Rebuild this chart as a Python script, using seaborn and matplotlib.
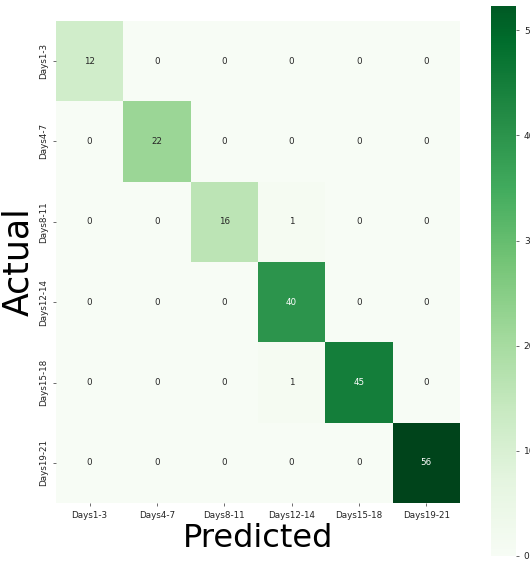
import numpy as np
import pandas as pd
import matplotlib
matplotlib.use("Agg")
import matplotlib.pyplot as plt
import seaborn as sns

labels = ["Days1-3", "Days4-7", "Days8-11", "Days12-14", "Days15-18", "Days19-21"]
row_1 = [12, 0, 0, 0, 0, 0]
row_2 = [0, 22, 0, 0, 0, 0]
row_3 = [0, 0, 16, 1, 0, 0]
row_4 = [0, 0, 0, 40, 0, 0]
row_5 = [0, 0, 0, 1, 45, 0]
row_6 = [0, 0, 0, 0, 0, 56]
cbar_ticks = [0, 10, 20, 30, 40, 50]

cm = pd.DataFrame([row_1, row_2, row_3, row_4, row_5, row_6], index=labels, columns=labels)

fig = plt.figure(figsize=(5.30, 5.64), dpi=100)
ax = fig.add_axes([0.1057, 0.108, 0.762, 0.855])
cax = fig.add_axes([0.927, 0.0142, 0.047, 0.975])

sns.heatmap(cm, annot=True, fmt="d", cmap="Greens", ax=ax, cbar_ax=cax,
            annot_kws={"fontsize": 6.3}, cbar_kws={"ticks": cbar_ticks})

ax.tick_params(axis="both", labelsize=6.3, length=2, width=0.6, color="#555555", labelcolor="#222222")
ax.set_yticklabels(labels, rotation=90, va="center")
ax.set_xticklabels(labels, rotation=0)
ax.set_xlabel("Predicted", fontsize=23, labelpad=2)
ax.set_ylabel("Actual", fontsize=25)
ax.yaxis.set_label_coords(-0.052, 0.5)

cax.set_ylim(0, 52.3)
cax.tick_params(labelsize=6.5, length=2, width=0.6, color="#555555", labelcolor="#222222")
for s in cax.spines.values():
    s.set_visible(False)

fig.savefig("out.png", dpi=100)
